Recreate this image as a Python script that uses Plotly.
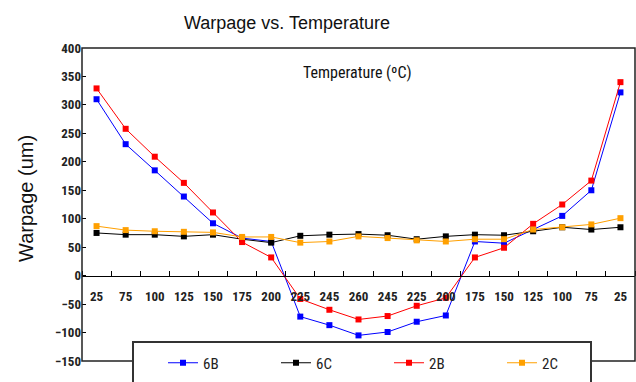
import plotly.graph_objects as go

categories = ["25", "75", "100", "125", "150", "175", "200", "225", "245", "260",
              "245", "225", "200", "175", "150", "125", "100", "75", "25"]
series_6B = [310, 231, 185, 139, 92, 66, 60, -72, -87, -105, -99, -81, -70, 60, 57, 81, 105, 150, 322]
series_6C = [75, 72, 72, 69, 72, 64, 58, 70, 72, 73, 71, 64, 69, 72, 71, 78, 85, 81, 85]
series_2B = [329, 258, 209, 163, 111, 59, 32, -41, -60, -77, -71, -53, -39, 32, 49, 91, 125, 167, 340]
series_2C = [87, 80, 78, 77, 76, 68, 68, 58, 60, 69, 66, 62, 60, 64, 64, 81, 85, 90, 101]
y_ticks = [-150, -100, -50, 0, 50, 100, 150, 200, 250, 300, 350, 400]

x = list(range(len(categories)))
NARROW = "Liberation Sans Narrow, Arial Narrow, Roboto Condensed, Liberation Sans, sans-serif"
SANS = "Liberation Sans, Arial, sans-serif"

fig = go.Figure()
for name, vals, col in [("6B", series_6B, "#0000ff"), ("6C", series_6C, "#000000"),
                        ("2B", series_2B, "#ff0000"), ("2C", series_2C, "#ffa000")]:
    fig.add_trace(go.Scatter(x=x, y=vals, name=name, mode="lines+markers",
                             line=dict(color=col, width=1),
                             marker=dict(symbol="square", size=6, color=col)))

fig.update_layout(
    width=636, height=382,
    margin=dict(l=82, r=1, t=48, b=21),
    paper_bgcolor="white", plot_bgcolor="white",
    title=dict(text="Warpage vs. Temperature", x=287/636, xanchor="center",
               y=1-23/382, yanchor="middle", xref="container", yref="container",
               font=dict(family=SANS, size=18, color="#111")),
    showlegend=True,
    legend=dict(orientation="h", x=(163-82)/553, xanchor="left",
                y=(361-363)/313, yanchor="middle", bgcolor="rgba(0,0,0,0)",
                borderwidth=0, entrywidth=68, entrywidthmode="pixels",
                itemwidth=30,
                font=dict(family=NARROW, size=15, color="#222")),
    xaxis=dict(range=[-0.5, len(categories)-0.5], tickmode="array", tickvals=x,
               ticktext=categories, ticks="", showgrid=False, zeroline=False,
               showline=True, linecolor="black", linewidth=1,
               anchor="free", position=150/550, ticklabelstandoff=9,
               tickfont=dict(family=NARROW, size=13, color="#222", weight="bold"),
               minor=dict(ticks="inside", tickmode="linear", tick0=-0.5, dtick=1,
                          ticklen=5, tickcolor="black", tickwidth=1, showgrid=False)),
    yaxis=dict(range=[-150, 400], tickmode="array", tickvals=y_ticks,
               ticks="inside", ticklen=4, tickcolor="black", showgrid=False,
               zeroline=False, showline=False, automargin=False,
               tickfont=dict(family=NARROW, size=13, color="#222", weight="bold")),
    shapes=[
        dict(type="rect", xref="paper", yref="paper", x0=0, x1=1, y0=0, y1=1,
             line=dict(color="#222", width=1.5), layer="above"),
        dict(type="rect", xref="paper", yref="paper",
             x0=(133-82)/553, x1=(591-82)/553, y0=(361-400)/313, y1=(361-342)/313,
             line=dict(color="#333", width=2), fillcolor="white", layer="above"),
    ],
    annotations=[
        dict(text="Warpage (um)", textangle=-90, xref="paper", yref="paper",
             x=(26-82)/553, y=(361-199)/313, xanchor="center", yanchor="middle",
             showarrow=False, font=dict(family=SANS, size=20, color="#111")),
        dict(text="Temperature (ºC)", xref="paper", yref="paper",
             x=(357-82)/553, y=(361-72)/313, xanchor="center", yanchor="middle",
             showarrow=False, font=dict(family=NARROW, size=16, color="#111")),
    ],
)

fig.write_html("out.html", config={"displayModeBar": False},
               post_script="document.body.style.margin='0';document.body.style.overflow='hidden';")
